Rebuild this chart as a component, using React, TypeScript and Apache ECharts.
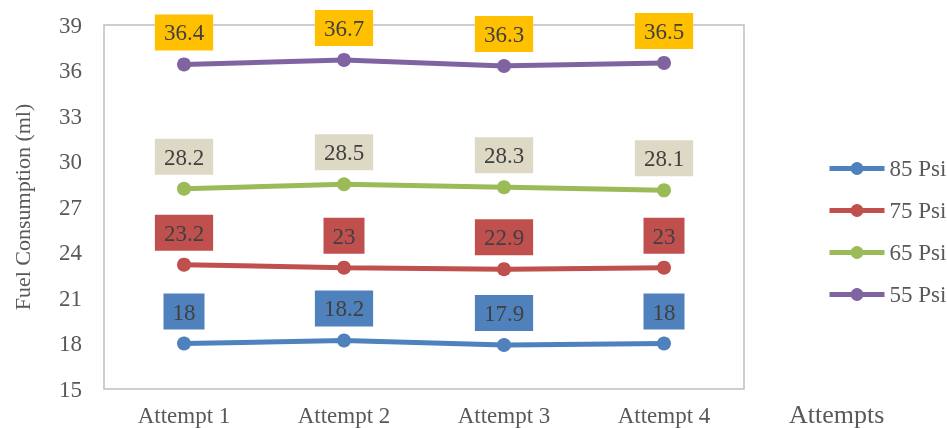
import React, { useEffect, useRef } from "react";
import * as echarts from "echarts";

const categories = ["Attempt 1", "Attempt 2", "Attempt 3", "Attempt 4"];
const psi85 = [18, 18.2, 17.9, 18];
const psi75 = [23.2, 23, 22.9, 23];
const psi65 = [28.2, 28.5, 28.3, 28.1];
const psi55 = [36.4, 36.7, 36.3, 36.5];
const seriesNames = ["85 Psi", "75 Psi", "65 Psi", "55 Psi"];
const lineColors = ["#4F81BD", "#C0504D", "#9BBB59", "#8064A2"];
const labelBgColors = ["#4F81BD", "#C0504D", "#DDD9C4", "#FFC000"];

const FONT = "'Liberation Serif', 'Times New Roman', serif";

export default function App() {
  const ref = useRef<HTMLDivElement>(null);
  useEffect(() => {
    if (!ref.current) return;
    const chart = echarts.init(ref.current, null, { renderer: "svg" });
    const data = [psi85, psi75, psi65, psi55];
    chart.setOption({
      animation: false,
      textStyle: { fontFamily: FONT },
      grid: {
        left: 104,
        top: 25,
        right: 203,
        bottom: 39,
        show: true,
        borderColor: "#BFBFBF",
        borderWidth: 1.5,
        containLabel: false,
        outerBoundsMode: "none",
      },
      legend: {
        orient: "vertical",
        left: 827,
        top: 157,
        padding: 0,
        itemWidth: 55,
        itemHeight: 16,
        itemGap: 19,
        itemTextGap: 4,
        lineStyle: { width: 5 },
        textStyle: { fontFamily: FONT, fontSize: 23, color: "#595959" },
        data: seriesNames,
      },
      xAxis: {
        type: "category",
        data: categories,
        boundaryGap: true,
        axisLine: { show: false },
        axisTick: { show: false },
        axisLabel: { fontFamily: FONT, fontSize: 23, color: "#595959", margin: 15 },
        name: "Attempts",
        nameLocation: "end",
        nameGap: 45,
        nameTextStyle: {
          fontFamily: FONT,
          fontSize: 26,
          color: "#595959",
          align: "left",
          verticalAlign: "top",
          lineHeight: 50,
        },
      },
      yAxis: {
        type: "value",
        min: 15,
        max: 39,
        interval: 3,
        splitLine: { show: false },
        axisLine: { show: false },
        axisTick: { show: false },
        axisLabel: { fontFamily: FONT, fontSize: 23, color: "#595959", margin: 22 },
        name: "Fuel Consumption (ml)",
        nameLocation: "middle",
        nameGap: 71,
        nameTextStyle: { fontFamily: FONT, fontSize: 22, color: "#595959" },
      },
      series: seriesNames.map((name, i) => ({
        name,
        type: "line",
        data: data[i],
        symbol: "circle",
        symbolSize: 14,
        lineStyle: { width: 5, color: lineColors[i] },
        itemStyle: { color: lineColors[i] },
        label: {
          show: true,
          position: "top",
          distance: 7,
          fontFamily: FONT,
          fontSize: 23,
          color: "#404040",
          backgroundColor: labelBgColors[i],
          padding: [7, 9, 6, 9],
        },
      })),
    });
    return () => chart.dispose();
  }, []);
  return (
    <div
      ref={ref}
      style={{ position: "fixed", left: 0, top: 0, width: 947, height: 428 }}
    />
  );
}
